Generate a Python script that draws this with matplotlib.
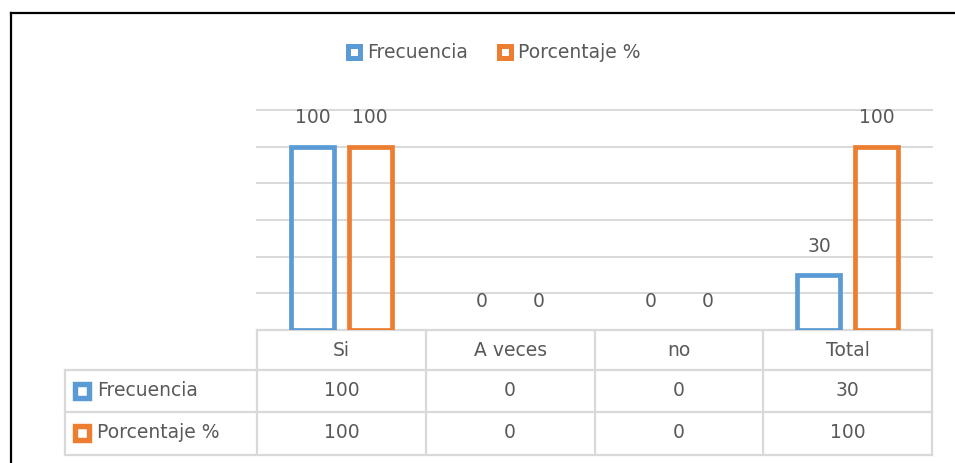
import matplotlib
matplotlib.use("Agg")
import matplotlib.pyplot as plt
from matplotlib.lines import Line2D
from matplotlib.transforms import blended_transform_factory
import numpy as np

categories = ["Si", "A veces", "no", "Total"]
series_names = ["Frecuencia", "Porcentaje %"]
frecuencia = [100, 0, 0, 30]
porcentaje = [100, 0, 0, 100]
yticks = [0, 20, 40, 60, 80, 100, 120]

BLUE = "#5B9BD5"
ORANGE = "#ED7D31"
GRID = "#D9D9D9"
TXT = "#595959"
FS = 13.5
plt.rcParams["font.family"] = ["DejaVu Sans"]

W, H = 955, 463
fig = plt.figure(figsize=(W / 100, H / 100), dpi=100)

# plot area in pixels
L, R, T, B = 257, 932, 110, 330
ax = fig.add_axes([L / W, 1 - B / H, (R - L) / W, (B - T) / H])

x = np.arange(len(categories))
off, bw = 0.17, 0.255
series = [frecuencia, porcentaje]
colors = [BLUE, ORANGE]
for i, (vals, c) in enumerate(zip(series, colors)):
    xs = x + (-off if i == 0 else off)
    bars = ax.bar(xs, vals, width=bw, facecolor="none", edgecolor=c, linewidth=3.4, zorder=3)
    for p, v in zip(bars.patches, vals):
        if v == 0:
            p.set_linewidth(0)
    for xi, v in zip(xs, vals):
        ax.annotate(str(v), (xi, v), xytext=(0, 14), textcoords="offset points",
                    ha="center", va="bottom", fontsize=FS, color=TXT)

ax.set_xlim(-0.5, len(categories) - 0.5)
ax.set_ylim(yticks[0], yticks[-1])
ax.set_yticks(yticks)
ax.yaxis.grid(True, color=GRID, linewidth=1.4, zorder=0)
for gl in ax.get_ygridlines():
    gl.set_clip_on(False)
ax.set_axisbelow(True)
for s in ax.spines.values():
    s.set_visible(False)
ax.tick_params(left=False, bottom=False, labelleft=False, labelbottom=False)

# ---- data table ----
def yf(px):
    return (B - px) / (B - T)

def xf(px):
    return (px - L) / (R - L)

tb = blended_transform_factory(ax.transData, ax.transAxes)
ta = ax.transAxes
tl = 65
rows_px = [330, 370, 412, 455]
lkw = dict(color=GRID, linewidth=1.6, clip_on=False, zorder=1)
ax.plot([0, 1], [yf(330), yf(330)], transform=ta, **lkw)
for rp in rows_px[1:]:
    ax.plot([xf(tl), 1], [yf(rp), yf(rp)], transform=ta, **lkw)
ax.plot([xf(tl), xf(tl)], [yf(370), yf(455)], transform=ta, **lkw)
for k in range(len(categories) + 1):
    ax.plot([k - 0.5, k - 0.5], [yf(330), yf(455)], transform=tb, **lkw)

hy = yf(350)
ry = [yf(391), yf(433)]
for k, cat in enumerate(categories):
    ax.text(k, hy, cat, transform=tb, ha="center", va="center", fontsize=FS, color=TXT)
for r, (vals, name, c) in enumerate(zip(series, series_names, colors)):
    for k, v in enumerate(vals):
        ax.text(k, ry[r], str(v), transform=tb, ha="center", va="center", fontsize=FS, color=TXT)
    ax.plot([xf(82)], [ry[r]], transform=ta, marker="s", ms=10.5, mew=3.9,
            mec=c, mfc="white", ls="none", clip_on=False)
    ax.text(xf(97), ry[r], name, transform=ta, ha="left", va="center", fontsize=FS, color=TXT)

# ---- legend ----
handles = [Line2D([], [], marker="s", ms=9.3, mew=3.6, mec=c, mfc="white", ls="none")
           for c in colors]
fig.legend(handles, series_names, loc="center", bbox_to_anchor=(493.5 / W, 1 - 53 / H),
           ncol=2, frameon=False, fontsize=FS, labelcolor=TXT, handlelength=0.8,
           handletextpad=0.3, columnspacing=1.6, borderaxespad=0)

# ---- outer frame ----
fig.add_artist(Line2D([11 / W, 11 / W], [0, 1 - 13 / H], color="black", linewidth=1.6))
fig.add_artist(Line2D([11 / W, 1], [1 - 13 / H, 1 - 13 / H], color="black", linewidth=1.6))

fig.savefig("out.png", dpi=100)
